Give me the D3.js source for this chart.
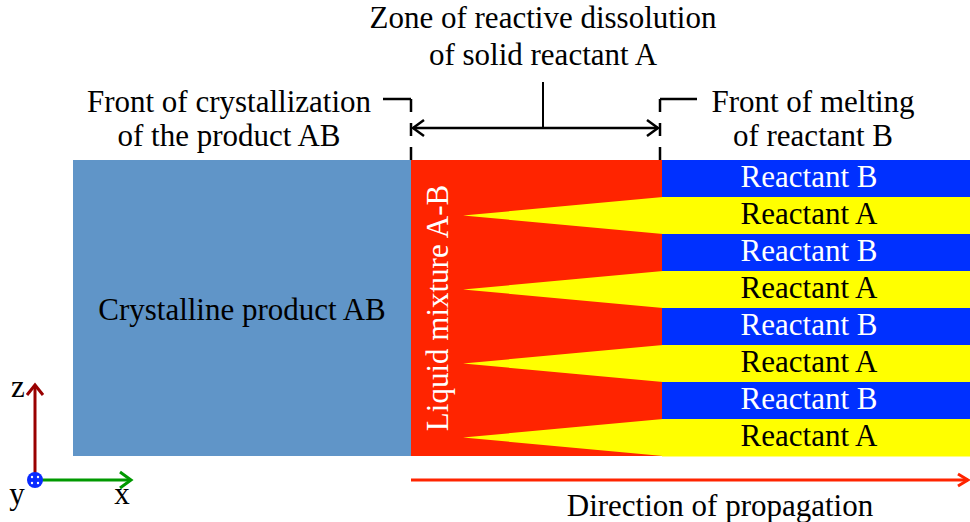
<!DOCTYPE html>
<html><head><meta charset="utf-8">
<script src="https://cdn.jsdelivr.net/npm/d3@7"></script>
<style>body{margin:0;background:#fff}svg{display:block}text{font-family:"Liberation Serif","Times New Roman",serif}</style>
</head><body>
<svg id="c" width="970" height="522"></svg>
<script>
const layers = ["Reactant B","Reactant A","Reactant B","Reactant A","Reactant B","Reactant A","Reactant B","Reactant A"];
const zones = ["Crystalline product AB","Liquid mixture A-B","Reactants"];
const zoneEdges = [0, 338, 589, 897];   // along x (diagram units)
const wedgeTip = 390;                   // x of dissolving A tip
const colors = {"Reactant A":"#ffff00","Reactant B":"#0030ff"};
const topTitle = ["Zone of reactive dissolution","of solid reactant A"];
const leftTitle = ["Front of crystallization","of the product AB"];
const rightTitle = ["Front of melting","of reactant B"];

const FS = 31;
const svg = d3.select("#c");
const x = d3.scaleLinear().domain([0,897]).range([73,970]);
const z = d3.scaleBand().domain(d3.range(layers.length)).range([160,456]);

svg.append("rect").attr("x",x(zoneEdges[0])).attr("y",160).attr("width",x(zoneEdges[1])-x(zoneEdges[0])).attr("height",296).attr("fill","#6095c8");
svg.append("rect").attr("x",x(zoneEdges[1])).attr("y",160).attr("width",x(zoneEdges[2])-x(zoneEdges[1])).attr("height",296).attr("fill","#ff2400");
svg.selectAll("rect.l").data(layers).join("rect").attr("class","l")
  .attr("x",x(zoneEdges[2])).attr("y",(d,i)=>z(i)).attr("width",x(zoneEdges[3])-x(zoneEdges[2])+1).attr("height",z.bandwidth()+0.5)
  .attr("fill",d=>colors[d]);
svg.selectAll("path.w").data(layers.map((d,i)=>({d,i})).filter(o=>o.d==="Reactant A")).join("path").attr("class","w")
  .attr("d",o=>{const y0=z(o.i),y1=y0+z.bandwidth();return `M${x(wedgeTip)},${(y0+y1)/2}L${x(zoneEdges[2])+1},${y0}L${x(zoneEdges[2])+1},${y1}Z`;})
  .attr("fill","#ffff00");
svg.selectAll("text.l").data(layers).join("text").attr("class","l")
  .attr("x",809).attr("y",(d,i)=>z(i)+z.bandwidth()/2+8.5)
  .attr("text-anchor","middle").attr("font-size",FS).attr("fill",d=>d==="Reactant B"?"#fff":"#000").text(d=>d);
svg.append("text").attr("x",(x(zoneEdges[0])+x(zoneEdges[1]))/2).attr("y",320).attr("text-anchor","middle").attr("font-size",FS).text(zones[0]);
svg.append("text").attr("transform",`translate(448,308) rotate(-90)`).attr("text-anchor","middle").attr("font-size",FS).attr("fill","#fff").text(zones[1]);

const g = svg.append("g").attr("stroke","#000").attr("stroke-width",2.5).attr("fill","none");
const xl = x(zoneEdges[1]), xr = x(zoneEdges[2])-2;
g.append("path").attr("d",`M383,99H${xl}`);
g.append("path").attr("d",`M${xl},99V160`).attr("stroke-dasharray","13,11");
g.append("path").attr("d",`M${xr},99V160`).attr("stroke-dasharray","13,11");
g.append("path").attr("d",`M${xr},99H697`);
g.append("path").attr("d",`M${xl+2},128H${xr-2}`);
g.append("path").attr("d",`M${xl+13},120L${xl+2},128L${xl+13},136`);
g.append("path").attr("d",`M${xr-13},120L${xr-2},128L${xr-13},136`);
g.append("path").attr("d",`M543,82V128`).attr("stroke-width",2);

svg.selectAll("text.t").data(topTitle).join("text").attr("class","t").attr("x",543).attr("y",(d,i)=>28+i*37).attr("text-anchor","middle").attr("font-size",FS).text(d=>d);
svg.selectAll("text.lt").data(leftTitle).join("text").attr("class","lt").attr("x",229).attr("y",(d,i)=>112+i*34).attr("text-anchor","middle").attr("font-size",FS).text(d=>d);
svg.selectAll("text.rt").data(rightTitle).join("text").attr("class","rt").attr("x",813).attr("y",(d,i)=>112+i*34).attr("text-anchor","middle").attr("font-size",FS).text(d=>d);

svg.append("path").attr("d",`M${xl},480H968`).attr("stroke","#ff2400").attr("stroke-width",3);
svg.append("path").attr("d",`M958,474L968,480L958,486`).attr("stroke","#ff2400").attr("stroke-width",3).attr("fill","none");
svg.append("text").attr("x",720).attr("y",516).attr("text-anchor","middle").attr("font-size",FS).text("Direction of propagation");

svg.append("path").attr("d","M35,478V386").attr("stroke","#990000").attr("stroke-width",3);
svg.append("path").attr("d","M27,395L35,385L43,395").attr("stroke","#990000").attr("stroke-width",3).attr("fill","none");
svg.append("path").attr("d","M35,480H130").attr("stroke","#009900").attr("stroke-width",3);
svg.append("path").attr("d","M120,472L131,480L120,488").attr("stroke","#009900").attr("stroke-width",3).attr("fill","none");
svg.append("circle").attr("cx",35).attr("cy",480).attr("r",8).attr("fill","#0a2bff");
[[-3,-3],[3,-3],[-3,3],[3,3]].forEach(([dx,dy])=>svg.append("circle").attr("cx",35+dx).attr("cy",480+dy).attr("r",1.2).attr("fill","#fff"));
svg.append("text").attr("x",18).attr("y",397).attr("text-anchor","middle").attr("font-size",FS).text("z");
svg.append("text").attr("x",17).attr("y",504).attr("text-anchor","middle").attr("font-size",FS).text("y");
svg.append("text").attr("x",122).attr("y",504).attr("text-anchor","middle").attr("font-size",FS).text("x");
</script>
</body></html>
